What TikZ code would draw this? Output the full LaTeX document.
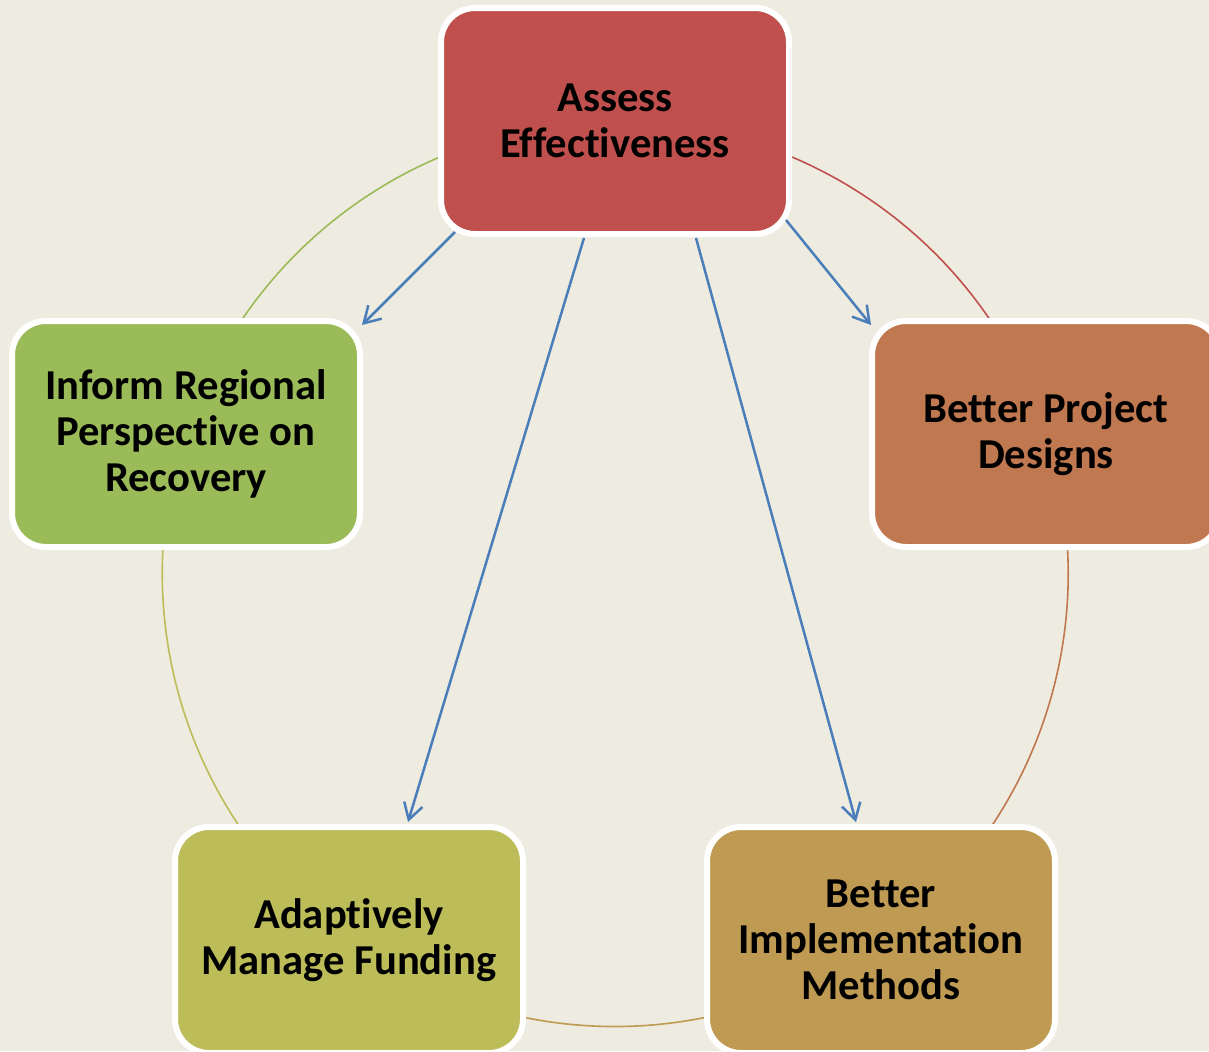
\documentclass[tikz,border=0pt]{standalone}
\usepackage{fontspec}
\setmainfont{Carlito}[Ligatures={NoCommon}]
\usetikzlibrary{arrows.meta}
\definecolor{bg}{HTML}{EEEBE0}
\definecolor{cred}{HTML}{C0504D}
\definecolor{corange}{HTML}{C07850}
\definecolor{ctan}{HTML}{BE9A52}
\definecolor{colive}{HTML}{BCBD58}
\definecolor{cgreen}{HTML}{9BBB59}
\definecolor{cblue}{HTML}{4A7EBB}
\tikzset{
  stage/.style={rectangle, rounded corners=17pt, draw=white, line width=3pt,
    minimum width=174pt, minimum height=113pt, align=center, inner sep=0pt,
    font=\bfseries\fontsize{21.3}{23}\selectfont, text=black},
  ring/.style={line width=0.8pt},
  flow/.style={draw=cblue, line width=1.25pt, -{Straight Barb[length=8pt, width=9.5pt, line width=1.25pt]}}
}
\begin{document}
\begin{tikzpicture}[x=0.5pt, y=-0.5pt]
  \fill[bg] (0,0) rectangle (1209,1051);
  \useasboundingbox (0,0) rectangle (1209,1051);

  % cycle centre (615,574), radius 453
  \coordinate (A) at (615,121);
  \coordinate (D) at (1046,434);
  \coordinate (M) at (881,940);
  \coordinate (F) at (349,940);
  \coordinate (L) at (186,434);

  % connecting ring, one arc per step of the cycle
  \draw[ring, cred]    (A) arc[start angle=270, end angle=342, radius=453];
  \draw[ring, corange] (D) arc[start angle=342, end angle=414, radius=453];
  \draw[ring, ctan]    (M) arc[start angle=54,  end angle=126, radius=453];
  \draw[ring, colive]  (F) arc[start angle=126, end angle=198, radius=453];
  \draw[ring, cgreen]  (L) arc[start angle=198, end angle=270, radius=453];

  % stages
  \node[stage, fill=cred]    (assess)  at (A) {Assess\\Effectiveness};
  \node[stage, fill=corange] (design)  at (D) {Better Project\\Designs};
  \node[stage, fill=ctan]    (impl)    at (M) {Better\\Implementation\\Methods};
  \node[stage, fill=colive]  (funding) at (F) {Adaptively\\Manage Funding};
  \node[stage, fill=cgreen]  (inform)  at (L) {Inform Regional\\Perspective on\\Recovery};

  % feedback from the assessment to every other stage
  \draw[flow] ([shift={(-160,111)}]assess.center) -- ([shift={(176,-109)}]inform.center);
  \draw[flow] ([shift={(-31,117)}]assess.center) -- ([shift={(59,-118)}]funding.center);
  \draw[flow] ([shift={(81,117)}]assess.center) -- ([shift={(-25,-118)}]impl.center);
  \draw[flow] ([shift={(171,99)}]assess.center) -- ([shift={(-175,-109)}]design.center);
\end{tikzpicture}
\end{document}
